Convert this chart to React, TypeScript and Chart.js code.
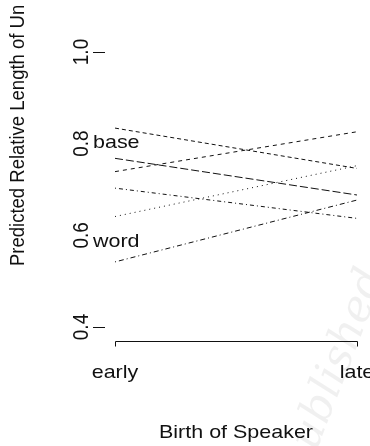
import React, { useEffect, useRef } from "react";
import { Chart, registerables } from "chart.js";

Chart.register(...registerables);

// ---- data ----
const categories = ["early", "late"];
const series1 = [0.834, 0.746];
const series2 = [0.768, 0.688];
const series3 = [0.739, 0.826];
const series4 = [0.703, 0.637];
const series5 = [0.641, 0.752];
const series6 = [0.542, 0.677];
const seriesList = [series1, series2, series3, series4, series5, series6];
const seriesDashes = [
  [4, 3],
  [8, 3],
  [4, 4],
  [1, 3, 4, 3],
  [1, 4],
  [1, 3, 5, 3],
];
const yTickValues = [0.4, 0.6, 0.8, 1.0];
const yTickLabels = ["0.4", "0.6", "0.8", "1.0"];
const groupLabels = ["base", "word"];
const groupLabelValues = [0.79, 0.575];
const xTitle = "Birth of Speaker";
const yTitle = "Predicted Relative Length of Un";
const watermark = "ublished";

const SX = 1.13;
const FONT = '19px "Liberation Sans", Arial, sans-serif';
const TITLE_FONT = '18.5px "Liberation Sans", Arial, sans-serif';
const INK = "#111";

function hText(ctx: CanvasRenderingContext2D, text: string, x: number, y: number, align: CanvasTextAlign, font = FONT) {
  ctx.save();
  ctx.translate(x, y);
  ctx.scale(SX, 1);
  ctx.font = font;
  ctx.textAlign = align;
  ctx.textBaseline = "alphabetic";
  ctx.fillText(text, 0, 0);
  ctx.restore();
}

function vText(ctx: CanvasRenderingContext2D, text: string, x: number, y: number, align: CanvasTextAlign, font = FONT) {
  ctx.save();
  ctx.translate(x, y);
  ctx.scale(SX, 1);
  ctx.rotate(-Math.PI / 2);
  ctx.font = font;
  ctx.textAlign = align;
  ctx.textBaseline = "alphabetic";
  ctx.fillText(text, 0, 0);
  ctx.restore();
}

const decorPlugin = {
  id: "decor",
  beforeDraw(chart: any) {
    const ctx: CanvasRenderingContext2D = chart.ctx;
    ctx.save();
    ctx.fillStyle = "#fff";
    ctx.fillRect(0, 0, chart.width, chart.height);
    // faint watermark
    ctx.translate(316, 452);
    ctx.rotate(-1.2);
    ctx.font = 'italic 44px "DejaVu Serif", serif';
    ctx.fillStyle = "rgba(0,0,0,0.06)";
    ctx.fillText(watermark, 0, 0);
    ctx.restore();
  },
  afterDraw(chart: any) {
    const ctx: CanvasRenderingContext2D = chart.ctx;
    const xs = chart.scales.x;
    const ys = chart.scales.y;
    const area = chart.chartArea;
    ctx.save();
    ctx.strokeStyle = INK;
    ctx.fillStyle = INK;
    ctx.lineWidth = 1;

    // y ticks
    yTickValues.forEach((v, i) => {
      const y = Math.round(ys.getPixelForValue(v)) + 0.5;
      ctx.beginPath();
      ctx.moveTo(area.left - 22, y);
      ctx.lineTo(area.left - 10, y);
      ctx.stroke();
      vText(ctx, yTickLabels[i], area.left - 27, ys.getPixelForValue(v), "center");
    });

    // group labels (with white backing)
    groupLabels.forEach((t, i) => {
      const y = ys.getPixelForValue(groupLabelValues[i]);
      ctx.font = FONT;
      const w = ctx.measureText(t).width * SX;
      ctx.fillStyle = "#fff";
      ctx.fillRect(area.left - 22, y - 14, w + 2, 17);
      ctx.fillStyle = INK;
      hText(ctx, t, area.left - 22, y, "left");
    });

    // x axis
    const x0 = xs.getPixelForValue(0);
    const x1 = xs.getPixelForValue(categories.length - 1);
    const ay = Math.round(area.bottom + 14) + 0.5;
    ctx.beginPath();
    ctx.moveTo(Math.round(x0) + 0.5, ay + 5);
    ctx.lineTo(Math.round(x0) + 0.5, ay);
    ctx.lineTo(Math.round(x1) + 0.5, ay);
    ctx.lineTo(Math.round(x1) + 0.5, ay + 5);
    ctx.stroke();
    categories.forEach((c, i) => {
      hText(ctx, c, xs.getPixelForValue(i), area.bottom + 51, "center");
    });
    hText(ctx, xTitle, (x0 + x1) / 2, area.bottom + 111, "center");

    // y title
    vText(ctx, yTitle, 24, 266, "left", TITLE_FONT);
    ctx.restore();
  },
};

export default function App() {
  const ref = useRef<HTMLCanvasElement>(null);
  useEffect(() => {
    const chart = new Chart(ref.current as HTMLCanvasElement, {
      type: "line",
      data: {
        labels: categories,
        datasets: seriesList.map((s, i) => ({
          label: "s" + (i + 1),
          data: s,
          borderColor: INK,
          borderWidth: 1,
          borderDash: seriesDashes[i],
          pointRadius: 0,
          fill: false,
          tension: 0,
        })),
      },
      options: {
        responsive: false,
        maintainAspectRatio: false,
        animation: false,
        layout: { padding: { left: 115, right: 13, top: 52, bottom: 119 } },
        scales: {
          x: { type: "category", display: false, offset: false },
          y: { min: 0.4, max: 1.0, display: false },
        },
        plugins: { legend: { display: false }, tooltip: { enabled: false } },
      },
      plugins: [decorPlugin],
    });
    return () => chart.destroy();
  }, []);
  return (
    <div style={{ position: "fixed", left: 0, top: 0, width: 370, height: 446, background: "#fff" }}>
      <canvas ref={ref} width={370} height={446} style={{ display: "block", width: 370, height: 446 }} />
    </div>
  );
}
